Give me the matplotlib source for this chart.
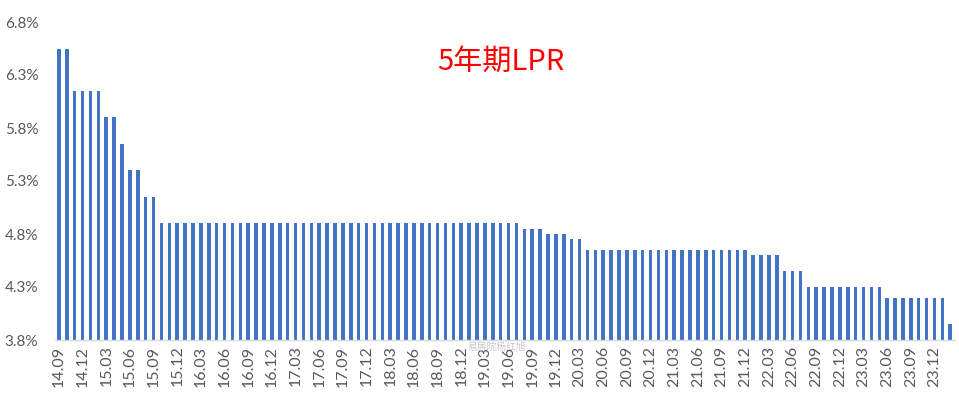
import matplotlib
matplotlib.use("Agg")
import matplotlib.pyplot as plt
import pandas as pd

plt.rcParams['font.family'] = ['Lato', 'Noto Sans CJK SC', 'DejaVu Sans']

months = list(pd.period_range('2014-09', '2024-02', freq='M').strftime('%y.%m'))
rates = [
    6.55, 6.55, 6.15, 6.15,                                              # 2014.09-12
    6.15, 6.15, 5.90, 5.90, 5.65, 5.40, 5.40, 5.15, 5.15, 4.90, 4.90, 4.90,  # 2015
    4.90, 4.90, 4.90, 4.90, 4.90, 4.90, 4.90, 4.90, 4.90, 4.90, 4.90, 4.90,  # 2016
    4.90, 4.90, 4.90, 4.90, 4.90, 4.90, 4.90, 4.90, 4.90, 4.90, 4.90, 4.90,  # 2017
    4.90, 4.90, 4.90, 4.90, 4.90, 4.90, 4.90, 4.90, 4.90, 4.90, 4.90, 4.90,  # 2018
    4.90, 4.90, 4.90, 4.90, 4.90, 4.90, 4.90, 4.85, 4.85, 4.85, 4.80, 4.80,  # 2019
    4.80, 4.75, 4.75, 4.65, 4.65, 4.65, 4.65, 4.65, 4.65, 4.65, 4.65, 4.65,  # 2020
    4.65, 4.65, 4.65, 4.65, 4.65, 4.65, 4.65, 4.65, 4.65, 4.65, 4.65, 4.65,  # 2021
    4.60, 4.60, 4.60, 4.60, 4.45, 4.45, 4.45, 4.30, 4.30, 4.30, 4.30, 4.30,  # 2022
    4.30, 4.30, 4.30, 4.30, 4.30, 4.20, 4.20, 4.20, 4.20, 4.20, 4.20, 4.20,  # 2023
    4.20, 3.95,                                                          # 2024.01-02
]
y_ticks = [3.8, 4.3, 4.8, 5.3, 5.8, 6.3, 6.8]
title = "5年期LPR"
watermark = "易居院杨红旭"

fig = plt.figure(figsize=(9.59, 3.98), dpi=100)
ax = fig.add_axes([55 / 959, 1 - 340 / 398, 900 / 959, (340 - 22) / 398])

x = list(range(len(months)))
base = y_ticks[0]
ax.bar(x, [r - base for r in rates], bottom=base, width=0.45, color='#4472C4')

ax.set_ylim(y_ticks[0], y_ticks[-1])
ax.set_xlim(-0.5, len(months) - 0.4)
ax.set_yticks(y_ticks)
ax.set_yticklabels([f"{v:.1f}%" for v in y_ticks])
ax.set_xticks(x[::3])
ax.set_xticklabels(months[::3], rotation=90)
ax.tick_params(axis='both', length=0, colors='#595959')
ax.tick_params(axis='y', pad=12, labelsize=11)
ax.tick_params(axis='x', pad=4, labelsize=11.5)

for s in ['top', 'right', 'left']:
    ax.spines[s].set_visible(False)
ax.spines['bottom'].set_color('#D9D9D9')
ax.spines['bottom'].set_linewidth(1)

fig.text(501 / 959, 1 - 62 / 398, title, color='#FF0000', fontsize=21,
         ha='center', va='center', family=['Noto Sans CJK SC', 'DejaVu Sans'])
fig.text(497 / 959, 1 - 347 / 398, watermark, color='#C8C8C8', fontsize=7,
         ha='center', va='center', family=['Noto Sans CJK SC', 'DejaVu Sans'])

fig.savefig('out.png', dpi=100)
